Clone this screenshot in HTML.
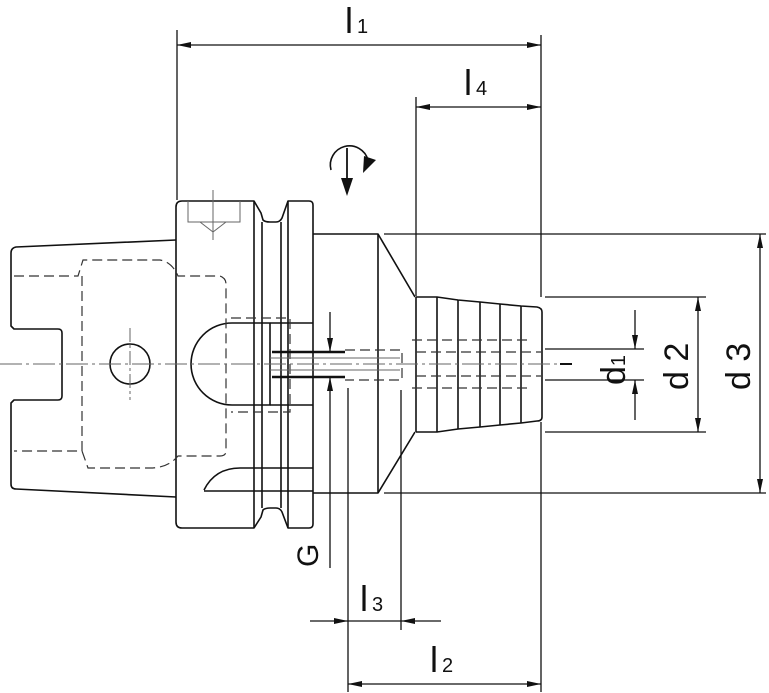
<!DOCTYPE html>
<html><head><meta charset="utf-8"><style>
html,body{margin:0;padding:0;background:#fff;}
svg{display:block;}
text{font-family:"Liberation Sans",sans-serif;fill:#111;}
</style></head><body>
<svg width="769" height="693" viewBox="0 0 769 693" xmlns="http://www.w3.org/2000/svg">
<defs>
<marker id="a" viewBox="0 0 14 6" refX="14" refY="3" markerWidth="14" markerHeight="6" markerUnits="userSpaceOnUse" orient="auto-start-reverse"><path d="M0,0 L14,3 L0,6 Z" fill="#111"/></marker>
</defs>
<g fill="none" stroke="#111" stroke-width="1.6" stroke-linejoin="round">
<path d="M176,240 L16,247 Q11,248 11,253 L11,326 L14,329 L58,329 Q62,329 62,333 L62,396 Q62,400 58,400 L14,400 L11,403 L11,484 Q11,489 16,489 L176,497"/>
<circle cx="130" cy="364" r="20"/>
<path d="M182,201 L254,201 L261,213 L263,220 Q265,222 270,222 L276,222 Q280,222 282,218 L288,201 L309,201 Q313,201 313,205 L313,524 Q313,528 309,528 L288,528 L282,512 Q280,508 276,508 L270,508 Q265,508 263,510 L261,517 L254,528 L182,528 Q176,528 176,522 L176,207 Q176,201 182,201 Z"/>
<line x1="254" y1="201" x2="254" y2="528"/>
<line x1="262" y1="222" x2="262" y2="508"/>
<line x1="281" y1="222" x2="281" y2="508"/>
<line x1="288" y1="201" x2="288" y2="528"/>
<path d="M313,234 L378,234 L415,297 M313,493 L378,493 L415,432"/>
<line x1="378" y1="234" x2="378" y2="493"/>
<line x1="384" y1="234" x2="766" y2="234" stroke-width="1.3"/>
<line x1="384" y1="493" x2="766" y2="493" stroke-width="1.3"/>
<line x1="416" y1="297" x2="416" y2="432"/>
<path d="M416,297 L437,297 L458,300 L480,302 L500,304 L521,306 L537,307 Q542,308 542,312 L542,417 Q542,421 537,421 L521,423 L500,425 L480,427 L458,429 L437,432 L416,432"/>
<line x1="437" y1="297" x2="437" y2="432"/>
<line x1="458" y1="300" x2="458" y2="429"/>
<line x1="480" y1="302" x2="480" y2="427"/>
<line x1="500" y1="304" x2="500" y2="425"/>
<line x1="521" y1="306" x2="521" y2="423"/>
<path d="M232,323 A41,41 0 0 0 232,405 L270,405 L270,323 Z"/>
<path d="M204,490 Q215,468 240,468 L313,468 M204,491 L313,491"/>
<path d="M270,323 L313,323 M270,405 L313,405"/>
</g>
<g fill="none" stroke="#333" stroke-width="1.2" stroke-dasharray="10,5">
<path d="M14,276 L78,276 L83,260 L160,260 Q172,262 178,276 L220,276 Q226,278 226,284 L226,451 Q226,456 220,456 L178,456 Q168,468 150,468 L88,468 L82,451 L14,451"/>
<line x1="82" y1="276" x2="82" y2="451"/>
<path d="M345,350 L402,350 L402,380 L345,380"/>
<path d="M416,352 L541,352 M416,376 L541,376"/>
<path d="M412,340 L530,340 M412,388 L530,388"/>
<path d="M231,318 L290,318 L290,412 L231,412"/>
</g>
<g stroke="#111" stroke-width="2.4">
<line x1="272" y1="352" x2="345" y2="352"/><line x1="272" y1="377" x2="345" y2="377"/>
</g>
<g stroke="#666" stroke-width="1">
<line x1="0" y1="364" x2="560" y2="364" stroke-dasharray="22,4,3,4"/>
<line x1="130" y1="328" x2="130" y2="400" stroke-dasharray="14,3,3,3"/>
<line x1="213" y1="190" x2="213" y2="240"/>
<path d="M188,201 L188,222 L240,222 L240,201 M200,222 L213,232 L226,222" fill="none"/>
<line x1="270" y1="358" x2="400" y2="358"/><line x1="270" y1="370" x2="400" y2="370"/>
</g>
<line x1="560" y1="364" x2="572" y2="364" stroke="#111" stroke-width="2"/>
<g stroke="#111" stroke-width="1.3">
<line x1="177" y1="30" x2="177" y2="200"/>
<line x1="541" y1="35" x2="541" y2="297"/><line x1="541" y1="422" x2="541" y2="692"/>
<line x1="416" y1="97" x2="416" y2="296"/>
<line x1="545" y1="297" x2="706" y2="297"/><line x1="545" y1="432" x2="706" y2="432"/>
<line x1="545" y1="349" x2="644" y2="349"/><line x1="545" y1="380" x2="644" y2="380"/>
<line x1="348" y1="388" x2="348" y2="692"/>
<line x1="401" y1="390" x2="401" y2="630"/>
<line x1="177" y1="45" x2="541" y2="45" marker-start="url(#a)" marker-end="url(#a)"/>
<line x1="416" y1="107" x2="541" y2="107" marker-start="url(#a)" marker-end="url(#a)"/>
<line x1="760" y1="234" x2="760" y2="493" marker-start="url(#a)" marker-end="url(#a)"/>
<line x1="698" y1="297" x2="698" y2="432" marker-start="url(#a)" marker-end="url(#a)"/>
<line x1="635" y1="310" x2="635" y2="349" marker-end="url(#a)"/>
<line x1="635" y1="420" x2="635" y2="380" marker-end="url(#a)"/>
<line x1="330" y1="312" x2="330" y2="352" marker-end="url(#a)"/>
<line x1="330" y1="568" x2="330" y2="377" marker-end="url(#a)"/>
<line x1="310" y1="621" x2="348" y2="621" marker-end="url(#a)"/>
<line x1="441" y1="621" x2="401" y2="621" marker-end="url(#a)"/>
<line x1="348" y1="621" x2="401" y2="621"/>
<line x1="348" y1="684" x2="541" y2="684" marker-start="url(#a)" marker-end="url(#a)"/>
</g>
<path d="M331,170 A16,16 0 1 1 368,160" fill="none" stroke="#111" stroke-width="1.6"/>
<path d="M364,156 L376,160 L363,173 Z" fill="#111"/>
<line x1="347" y1="148" x2="347" y2="182" stroke="#111" stroke-width="1.8"/>
<path d="M341,178 L353,178 L347,196 Z" fill="#111"/>
<text x="345" y="33" font-size="36">l</text><text x="357" y="33" font-size="20">1</text>
<text x="464" y="95" font-size="36">l</text><text x="476" y="95" font-size="20">4</text>
<text x="360" y="611" font-size="36">l</text><text x="372" y="611" font-size="20">3</text>
<text x="430" y="672" font-size="36">l</text><text x="442" y="672" font-size="20">2</text>
<text transform="translate(625,385) rotate(-90)" font-size="34">d<tspan font-size="20">1</tspan></text>
<text transform="translate(688,390) rotate(-90)" font-size="34">d 2</text>
<text transform="translate(750,390) rotate(-90)" font-size="34">d 3</text>
<text transform="translate(318,567) rotate(-90)" font-size="30">G</text>
</svg>
</body></html>
